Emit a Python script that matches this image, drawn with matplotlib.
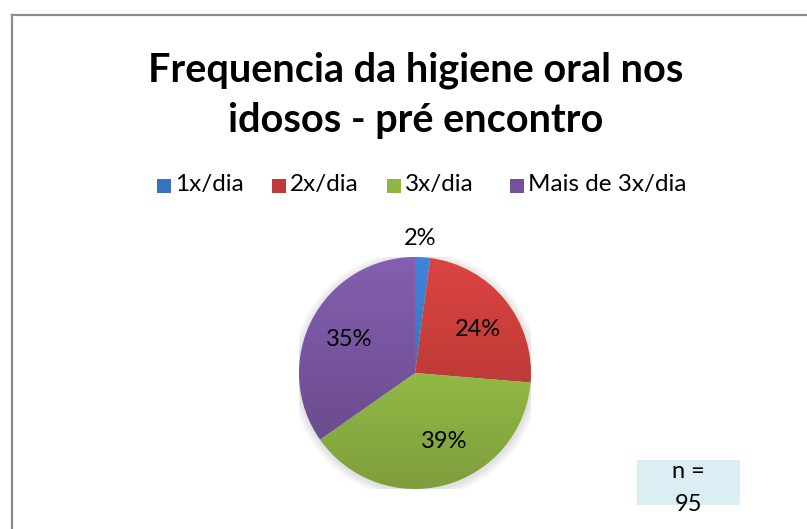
import numpy as np
import matplotlib.pyplot as plt
from matplotlib.patches import Rectangle, Wedge
import matplotlib.colors as mcolors

plt.rcParams['font.family'] = ['Lato', 'DejaVu Sans']

# dados
categorias = ['1x/dia', '2x/dia', '3x/dia', 'Mais de 3x/dia']
contagens = [2, 23, 37, 33]
rotulos = ['2%', '24%', '39%', '35%']
cores = ['#3C7DCE', '#CF403D', '#9DC64B', '#7D59A6']
titulo = 'Frequencia da higiene oral nos\nidosos - pré encontro'
n_texto = 'n =\n95'

W, H = 807, 529
fig = plt.figure(figsize=(W / 100, H / 100), dpi=100)
fig.patch.set_facecolor('white')

# moldura do gráfico (cortada à direita e em baixo)
fig.add_artist(plt.Line2D([12 / W, 12 / W], [0, 1 - 15 / H], transform=fig.transFigure,
                          color='#8c8c8c', lw=1.6))
fig.add_artist(plt.Line2D([12 / W, 1], [1 - 15 / H, 1 - 15 / H], transform=fig.transFigure,
                          color='#8c8c8c', lw=1.6))

fig.text(416 / W, 1 - 95 / H, titulo, ha='center', va='center', fontsize=28.5,
         fontweight='bold', linespacing=1.42)

# pizza
cx, cy, r = 415, 373, 116
ax = fig.add_axes([(cx - r) / W, (H - cy - r) / H, 2 * r / W, 2 * r / H])
ax.set_xlim(-1, 1)
ax.set_ylim(-1, 1)
ax.set_aspect('equal')
ax.axis('off')

# sombra suave
for k in range(6):
    ax.add_patch(plt.Circle((0.005, -0.015), 1.0 + 0.012 * (6 - k), color='black',
                            alpha=0.02, lw=0, zorder=0))

total = sum(contagens)
inicio = 90.0
for val, cor in zip(contagens, cores):
    ang = 360.0 * val / total
    w = Wedge((0, 0), 1.0, inicio - ang, inicio, facecolor='none', edgecolor='none')
    ax.add_patch(w)
    c = np.array(mcolors.to_rgb(cor))
    claro = np.clip(c * 1.06, 0, 1)
    escuro = c * 0.8
    t = np.linspace(0, 1, 256)[:, None]
    grad = claro[None, :] * (1 - t) + escuro[None, :] * t
    img = np.repeat(grad[:, None, :], 2, axis=1)
    im = ax.imshow(img, extent=[-1, 1, -1, 1], origin='upper', zorder=1,
                   interpolation='bilinear')
    im.set_clip_path(w)
    inicio -= ang

# rótulos
pos_rot = [(420, 238), (478, 330), (444, 441), (349, 339)]
for (px, py), txt in zip(pos_rot, rotulos):
    fig.text(px / W, 1 - py / H, txt, ha='center', va='center', fontsize=17)

# legenda
leg_x = [157, 272, 387, 510]
for x0, nome, cor in zip(leg_x, categorias, cores):
    c = np.array(mcolors.to_rgb(cor))
    fig.add_artist(Rectangle((x0 / W, 1 - 193 / H), 14 / W, 14 / H, transform=fig.transFigure,
                             facecolor=c * 0.92, edgecolor='none'))
    fig.text((x0 + 18) / W, 1 - 185 / H, nome, ha='left', va='center', fontsize=17.5)

# caixa n
fig.add_artist(Rectangle((637 / W, 1 - 505 / H), 103 / W, 45 / H, transform=fig.transFigure,
                         facecolor='#DAEEF3', edgecolor='none'))
fig.text(688 / W, 1 - 488 / H, n_texto, ha='center', va='center', fontsize=17,
         linespacing=1.75)

fig.savefig('out.png', dpi=100, facecolor='white')
